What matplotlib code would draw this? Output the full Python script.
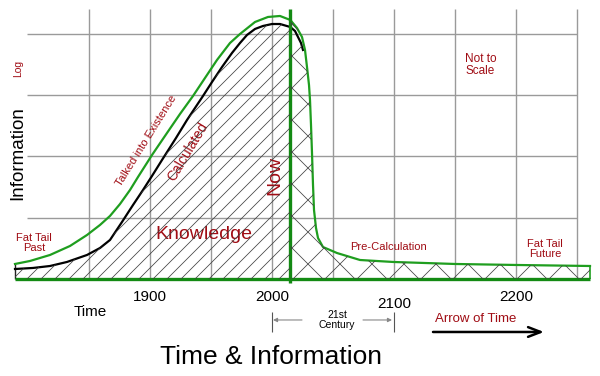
import matplotlib
matplotlib.use("Agg")
import matplotlib.pyplot as plt
from matplotlib.lines import Line2D
import numpy as np

plt.rcParams['font.family'] = ['Liberation Sans', 'DejaVu Sans']

# valeurs (annee, information en unites de grille)
annees_talk = [1789.35, 1801.64, 1818.03, 1834.43, 1848.36, 1859.02, 1867.21, 1875.41,
               1883.61, 1890.16, 1901.64, 1913.94, 1924.59, 1935.25, 1945.08, 1954.92,
               1965.57, 1973.77, 1986.07, 1996.72, 2006.56, 2015.0, 2020.49, 2024.59,
               2027.05, 2028.69, 2030.33, 2031.15, 2031.97, 2032.79, 2033.61, 2034.43,
               2036.07, 2037.71, 2041.80, 2053.28, 2072.13, 2099.18, 2150.0, 2199.18, 2260.66]
info_talk = [0.245, 0.294, 0.392, 0.539, 0.718, 0.882, 1.029, 1.224,
             1.453, 1.665, 2.024, 2.384, 2.694, 2.988, 3.282, 3.576,
             3.853, 4.0, 4.196, 4.278, 4.294, 4.229, 4.098, 3.951,
             3.739, 3.461, 3.167, 2.922, 2.514, 2.057, 1.535, 1.127,
             0.833, 0.669, 0.522, 0.424, 0.310, 0.278, 0.245, 0.229, 0.212]

annees_calc = [1789.35, 1804.1, 1818.03, 1831.97, 1848.36, 1859.02, 1867.21, 1877.05,
               1886.07, 1894.26, 1901.64, 1909.84, 1921.31, 1930.33, 1943.44, 1950.82,
               1959.02, 1967.21, 1973.77, 1979.51, 1986.07, 1992.62, 2000.0, 2006.56,
               2015.0, 2018.85, 2021.31, 2023.77, 2025.41]
info_calc = [0.163, 0.180, 0.212, 0.278, 0.392, 0.506, 0.637, 0.931,
             1.208, 1.453, 1.682, 1.943, 2.302, 2.596, 2.988, 3.216,
             3.461, 3.690, 3.853, 3.984, 4.082, 4.131, 4.163, 4.163,
             4.114, 4.049, 3.951, 3.853, 3.739]

annee_now = 2015
grille_annees = [1850, 1900, 1950, 2000, 2050, 2100, 2150, 2200, 2250]
grille_info = [1, 2, 3, 4]
etiquettes_annees = [1900, 2000, 2100, 2200]
decalage_etiquettes = [0, 0, -0.12, 0]

ROUGE = '#a00c14'
VERT_FONCE = '#138a13'
VERT = '#1f9e1f'

fig = plt.figure(figsize=(6, 3.76), dpi=100)
ax = fig.add_axes([0, 0, 1, 1])
ax.set_xlim(1777.05, 2268.85)
ax.set_ylim(-1.584, 4.555)
ax.set_axis_off()


def P(x, y):
    # pixel de l'image -> coordonnees du graphique
    return 1777.05 + x / 1.22, (279 - y) / 61.25


# grille
haut = P(0, 9)[1]
ax.vlines(grille_annees, 0, haut, color='#9a9a9a', lw=1, zorder=1)
ax.hlines(grille_info, P(27, 0)[0], grille_annees[-1], color='#9a9a9a', lw=1, zorder=1)


def hachures(poly, pas, sens):
    path = poly.get_paths()[0]
    for s in sens:
        for c in np.arange(-700, 1000, pas):
            if s > 0:
                xs, ys = [c, c + 700], [0, 700]
            else:
                xs, ys = [c, c - 700], [0, 700]
            ln = Line2D(xs, ys, transform=None, color='#404040', lw=0.55, zorder=2)
            ln.set_clip_path(path, ax.transData)
            fig.add_artist(ln)


# zone connaissance (avant maintenant)
ac = np.array(annees_calc)
ic = np.array(info_calc)
m = ac <= annee_now
zone_g = ax.fill_between(ac[m], 0, ic[m], facecolor='none', edgecolor='none')
hachures(zone_g, 14, [1])

# zone pre-calcul (apres maintenant)
at = np.array(annees_talk)
it = np.array(info_talk)
m2 = at >= annee_now
zone_d = ax.fill_between(at[m2], 0, it[m2], facecolor='none', edgecolor='none')
hachures(zone_d, 32, [1, -1])

ax.vlines(annees_calc[0], 0, info_talk[0], color='#222222', lw=1, zorder=3)
ax.vlines(annees_talk[-1], 0, info_talk[-1], color=VERT, lw=1.2, zorder=3)

ax.plot(annees_calc, info_calc, color='black', lw=1.6, zorder=4, solid_joinstyle='round')
ax.plot(annees_talk, info_talk, color=VERT, lw=1.6, zorder=5, solid_joinstyle='round')

# axe du temps et maintenant
ax.hlines(0, annees_talk[0], annees_talk[-1], color=VERT_FONCE, lw=2.4, zorder=6)
ax.vlines(annee_now, P(0, 283)[1], haut, color=VERT_FONCE, lw=2.4, zorder=6)

# textes
ax.text(*P(18, 68), "Log", color=ROUGE, fontsize=7.5, rotation=90, ha='center', va='center')
ax.text(*P(18, 153), "Information", color='black', fontsize=13.5, rotation=90,
        ha='center', va='center')
ax.text(*P(146, 141), "Talked into Existence", color=ROUGE, fontsize=8, rotation=58,
        ha='center', va='center', rotation_mode='anchor', zorder=7)
ax.text(*P(188, 152), "Calculated", color=ROUGE, fontsize=10, rotation=59,
        ha='center', va='center', rotation_mode='anchor', zorder=7)
ax.text(*P(275, 175), "Now", color=ROUGE, fontsize=14, rotation=90,
        ha='center', va='center', zorder=7)
ax.text(*P(204, 235), "Knowledge", color=ROUGE, fontsize=14, ha='center', va='center', zorder=7)
ax.text(*P(34, 243), "Fat Tail\nPast", color=ROUGE, fontsize=8, ha='center', va='center',
        linespacing=1.0, zorder=7)
ax.text(*P(388, 247), "Pre-Calculation", color=ROUGE, fontsize=8, ha='center', va='center', zorder=7)
ax.text(*P(545, 249), "Fat Tail\nFuture", color=ROUGE, fontsize=8, ha='center', va='center',
        linespacing=1.0, zorder=7)
ax.text(*P(465, 65), "Not to\nScale", color=ROUGE, fontsize=8.5, ha='left', va='center',
        linespacing=1.1)

y_lab = P(0, 297)[1]
for an, d in zip(etiquettes_annees, decalage_etiquettes):
    ax.text(an, y_lab + d, str(an), fontsize=11, ha='center', va='center')
ax.text(*P(90, 312), "Time", fontsize=11, ha='center', va='center')
ax.text(*P(271, 357), "Time & Information", fontsize=19, ha='center', va='center')

# 21e siecle
ax.text(*P(337, 320), "21st\nCentury", fontsize=7.5, ha='center', va='center', linespacing=1.05)
ax.vlines([2000, 2100], P(0, 332)[1], P(0, 312)[1], color='#555555', lw=0.8)
ax.annotate("", xy=P(273, 320), xytext=P(302, 320),
            arrowprops=dict(arrowstyle='-|>', color='#888888', lw=0.8,
                            mutation_scale=6, shrinkA=0, shrinkB=0))
ax.annotate("", xy=P(392, 320), xytext=P(363, 320),
            arrowprops=dict(arrowstyle='-|>', color='#888888', lw=0.8,
                            mutation_scale=6, shrinkA=0, shrinkB=0))

# fleche du temps
ax.text(*P(476, 319), "Arrow of Time", color=ROUGE, fontsize=9.5, ha='center', va='center')
ax.annotate("", xy=P(544, 332), xytext=P(433, 332),
            arrowprops=dict(arrowstyle='->,head_length=0.9,head_width=0.35', color='black',
                            lw=1.8, shrinkA=0, shrinkB=0))

fig.savefig("out.png", dpi=100, facecolor='white')
plt.close()
